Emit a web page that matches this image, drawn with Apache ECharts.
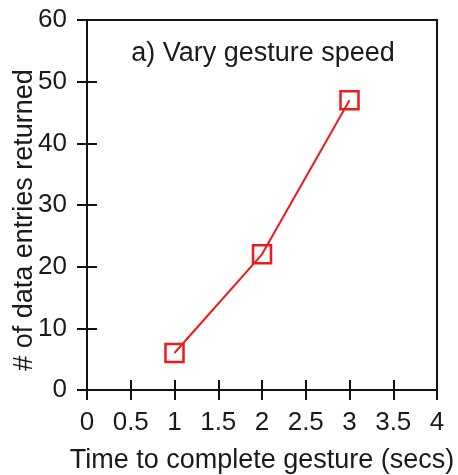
<!DOCTYPE html>
<html>
<head>
<meta charset="utf-8">
<script src="https://cdn.jsdelivr.net/npm/echarts@6/dist/echarts.min.js"></script>
<style>html,body{margin:0;padding:0;background:#fff}#c{width:458px;height:475px}</style>
</head>
<body>
<div id="c"></div>
<script>
const timeSecs = [1, 2, 3];
const entriesReturned = [6, 22, 47];
const xTicks = [0, 0.5, 1, 1.5, 2, 2.5, 3, 3.5, 4];
const yTicks = [0, 10, 20, 30, 40, 50, 60];
const titleText = 'a) Vary gesture speed';
const xName = 'Time to complete gesture (secs)';
const yName = '# of data entries returned';

const FONT = 'Liberation Sans, Arial, Helvetica, sans-serif';
const TXT = '#1a1a1a';
const chart = echarts.init(document.getElementById('c'), null, {renderer: 'canvas'});
const tickInside = {show: true, inside: true, length: 10, lineStyle: {color: '#111', width: 2}};
chart.setOption({
  animation: false,
  backgroundColor: '#fff',
  grid: {left: 87, right: 21, top: 20, bottom: 85, show: true, borderColor: '#111', borderWidth: 2,
         backgroundColor: 'transparent', containLabel: false, outerBoundsMode: 'none'},
  graphic: [{
    type: 'text', x: 263, y: 54,
    style: {text: titleText, font: '27px ' + FONT, fill: TXT, align: 'center', verticalAlign: 'middle'}
  }],
  xAxis: [{
    type: 'value', min: xTicks[0], max: xTicks[xTicks.length - 1], interval: 0.5,
    position: 'bottom',
    axisLine: {show: false}, axisTick: tickInside, splitLine: {show: false},
    axisLabel: {margin: 20, fontSize: 26, color: TXT, fontFamily: FONT},
    name: xName, nameLocation: 'middle', nameGap: 57, nameMoveOverlap: false,
    nameTextStyle: {fontSize: 27, color: TXT, fontFamily: FONT}
  }, {
    type: 'value', min: xTicks[0], max: xTicks[xTicks.length - 1], interval: 0.5,
    position: 'top',
    axisLine: {show: false}, axisTick: tickInside, splitLine: {show: false},
    axisLabel: {show: false}
  }],
  yAxis: [{
    type: 'value', min: yTicks[0], max: yTicks[yTicks.length - 1], interval: 10,
    position: 'left',
    axisLine: {show: false}, axisTick: tickInside, splitLine: {show: false},
    axisLabel: {margin: 20, fontSize: 26, color: TXT, fontFamily: FONT},
    name: yName, nameLocation: 'middle', nameGap: 49, nameRotate: 90, nameMoveOverlap: false,
    nameTextStyle: {fontSize: 27, color: TXT, fontFamily: FONT, padding: [0, 30, 0, 0]}
  }, {
    type: 'value', min: yTicks[0], max: yTicks[yTicks.length - 1], interval: 10,
    position: 'right',
    axisLine: {show: false}, axisTick: tickInside, splitLine: {show: false},
    axisLabel: {show: false}
  }],
  series: [{
    type: 'line',
    data: timeSecs.map((t, i) => [t, entriesReturned[i]]),
    symbol: 'rect', symbolSize: 18,
    lineStyle: {color: '#f01818', width: 2},
    itemStyle: {color: 'rgba(0,0,0,0)', borderColor: '#f01818', borderWidth: 2.5},
    z: 3
  }]
});
</script>
</body>
</html>
